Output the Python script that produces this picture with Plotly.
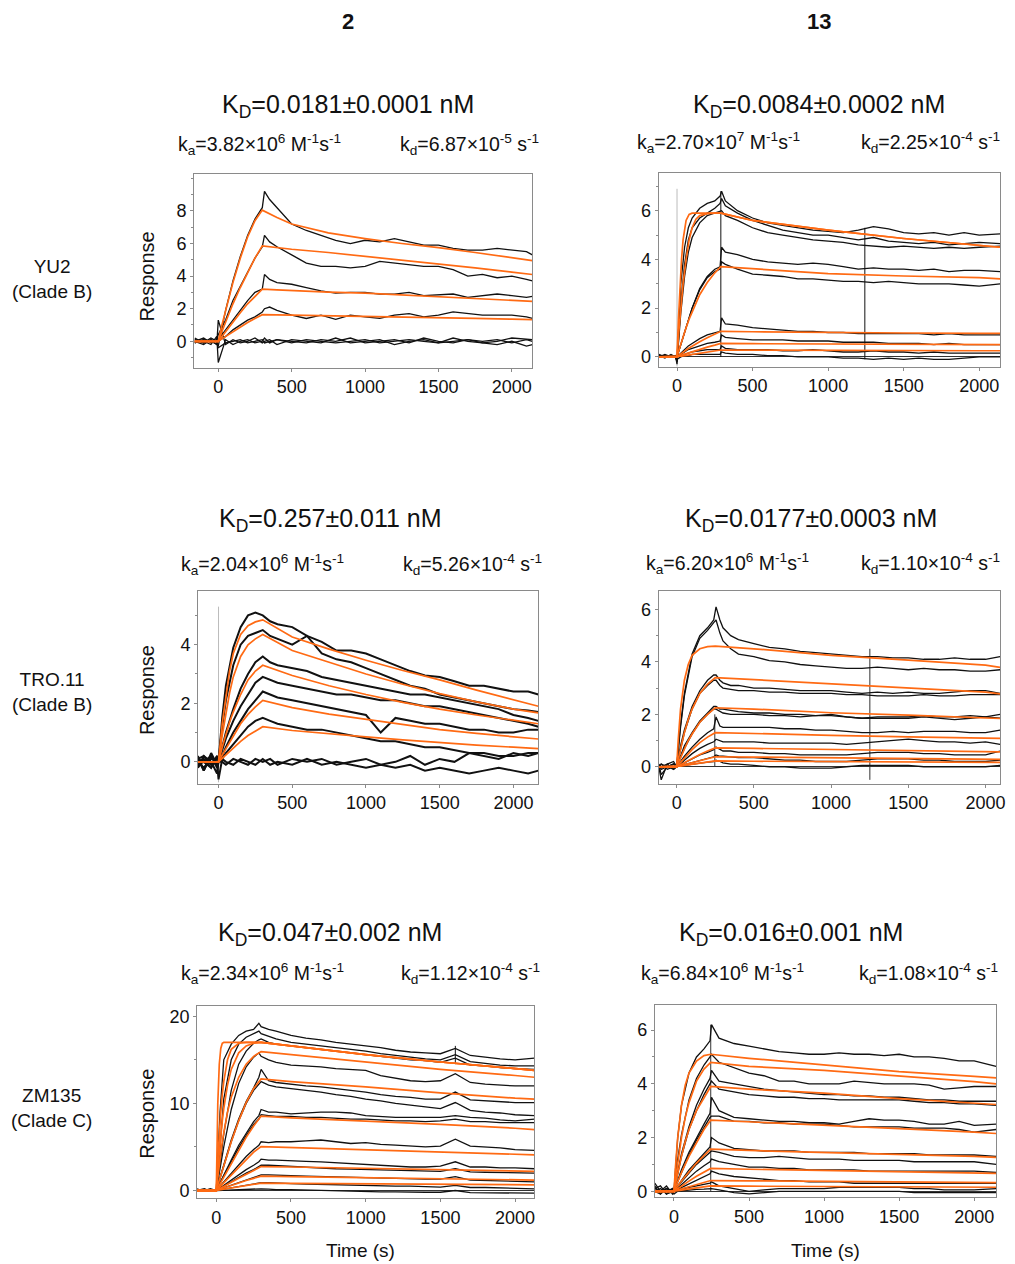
import plotly.graph_objects as go

W, H = 1015, 1264
BLACK = "#111111"
ORANGE = "#FF6A13"
FONT = "Liberation Sans, Arial, sans-serif"

# ---------------- Panel 1 : antibody 2 vs YU2 ----------------
p1_t = [-160, -100, -50, -10, 0, 50, 100, 150, 200, 250, 300, 315, 350, 400, 500, 600, 700, 800, 900, 1000,
        1100, 1200, 1300, 1400, 1500, 1600, 1700, 1800, 1900, 2000, 2100, 2140]
p1_black = [
    [0.1, -0.1, 0.2, 0.0, -0.3, 1.9, 3.7, 5.2, 6.5, 7.5, 8.2, 9.2, 8.7, 8.2, 7.2, 6.8, 6.5, 6.2, 6.0, 6.2, 6.1, 6.3, 6.1, 5.9, 5.9, 5.7, 5.6, 5.6, 5.7, 5.6, 5.5, 5.3],
    [-0.1, 0.1, 0.0, 0.1, 0.4, 1.3, 2.5, 3.4, 4.3, 5.1, 5.8, 6.5, 6.1, 5.8, 5.3, 4.8, 4.6, 4.6, 4.5, 4.6, 4.9, 4.8, 4.7, 4.6, 4.6, 4.4, 4.0, 4.1, 3.9, 4.0, 3.8, 3.7],
    [0.0, 0.2, -0.1, 0.0, 0.1, 0.7, 1.3, 1.9, 2.5, 3.0, 3.2, 4.1, 3.8, 3.6, 3.5, 3.3, 3.1, 2.95, 3.0, 3.0, 2.9, 2.9, 3.0, 2.8, 2.85, 2.9, 2.7, 2.8, 2.9, 2.8, 2.7, 2.75],
    [0.2, -0.1, 0.1, -0.2, 0.0, 0.3, 0.7, 1.0, 1.3, 1.5, 1.8, 2.0, 2.1, 1.9, 1.6, 1.4, 1.6, 1.35, 1.6, 1.5, 1.4, 1.6, 1.7, 1.5, 1.6, 1.8, 1.7, 1.6, 1.6, 1.6, 1.5, 1.4],
    [0.1, 0.0, -0.2, 0.3, -1.3, 0.1, -0.2, 0.0, 0.1, -0.1, 0.0, 0.2, -0.1, 0.1, 0.0, -0.1, 0.1, 0.0, 0.2, -0.1, 0.0, 0.1, -0.1, 0.2, 0.0, -0.1, 0.1, 0.0, 0.1, -0.1, 0.1, 0.0],
    [-0.1, 0.1, 0.0, -0.2, 1.3, -0.2, 0.1, -0.1, 0.0, 0.2, -0.1, 0.0, 0.1, -0.2, 0.1, 0.0, -0.1, 0.2, -0.1, 0.0, 0.1, -0.2, 0.0, 0.1, -0.1, 0.2, 0.0, -0.1, -0.2, 0.0, -0.3, -0.2],
    [0.0, -0.2, 0.1, 0.0, -0.4, -0.1, 0.0, 0.1, -0.1, 0.0, 0.1, -0.1, 0.0, 0.1, -0.1, 0.1, 0.0, -0.1, 0.0, 0.1, -0.1, 0.0, 0.1, 0.0, -0.1, 0.0, 0.1, -0.1, 0.0, 0.2, 0.1, 0.1],
]
p1_ft = [-160, 0, 25, 50, 75, 100, 150, 200, 250, 300, 400, 500, 750, 1000, 1250, 1500, 1750, 2000, 2140]
p1_fit = [
    [0, 0, 1.0, 1.9, 2.8, 3.6, 5.1, 6.4, 7.4, 8.05, 7.6, 7.2, 6.65, 6.3, 6.0, 5.75, 5.45, 5.15, 4.95],
    [0, 0, 0.6, 1.2, 1.75, 2.3, 3.3, 4.25, 5.1, 5.86, 5.75, 5.65, 5.45, 5.22, 5.0, 4.75, 4.5, 4.25, 4.1],
    [0, 0, 0.3, 0.6, 0.9, 1.2, 1.75, 2.3, 2.75, 3.2, 3.15, 3.1, 3.02, 2.95, 2.85, 2.75, 2.65, 2.52, 2.45],
    [0, 0, 0.15, 0.3, 0.45, 0.6, 0.9, 1.15, 1.4, 1.63, 1.62, 1.6, 1.56, 1.52, 1.48, 1.44, 1.4, 1.36, 1.33],
]

# ---------------- Panel 2 : antibody 13 vs YU2 ----------------
p2_t = [-120, -80, -40, -10, 0, 25, 50, 75, 100, 150, 200, 250, 285, 295, 320, 400, 500, 600, 700, 800, 900,
        1000, 1100, 1200, 1300, 1400, 1500, 1600, 1700, 1800, 1900, 2000, 2138]
p2_black = [
    [0.1, 0.0, 0.05, 0.0, -0.2, 3.0, 4.5, 5.3, 5.7, 6.1, 6.3, 6.4, 6.6, 6.8, 6.4, 6.0, 5.7, 5.5, 5.4, 5.3, 5.2, 5.15, 5.1, 5.2, 5.35, 5.25, 5.1, 5.05, 5.1, 5.0, 5.1, 5.0, 5.05],
    [0.0, 0.1, 0.0, 0.05, -0.3, 2.2, 3.8, 4.8, 5.3, 5.7, 5.9, 6.1, 6.3, 6.5, 6.2, 5.9, 5.6, 5.4, 5.2, 5.1, 5.0, 5.0, 4.9, 4.8, 4.9, 4.75, 4.7, 4.65, 4.7, 4.6, 4.65, 4.7, 4.65],
    [0.05, -0.05, 0.1, 0.0, -0.2, 1.8, 3.3, 4.3, 4.9, 5.5, 5.8, 5.9, 5.95, 6.0, 5.8, 5.6, 5.3, 5.1, 5.0, 4.9, 4.8, 4.75, 4.7, 4.6, 4.55, 4.5, 4.55, 4.5, 4.45, 4.5, 4.45, 4.5, 4.55],
    [0.0, 0.05, 0.0, 0.0, 0.0, 0.5, 1.0, 1.5, 2.0, 2.8, 3.3, 3.6, 3.7, 4.5, 4.3, 4.2, 4.0, 3.9, 3.85, 3.8, 3.85, 3.8, 3.7, 3.6, 3.65, 3.6, 3.6, 3.55, 3.6, 3.5, 3.55, 3.55, 3.5],
    [0.0, 0.0, 0.05, 0.0, 0.0, 0.5, 1.0, 1.5, 2.0, 2.75, 3.25, 3.5, 3.6, 3.9, 3.8, 3.6, 3.4, 3.35, 3.3, 3.2, 3.2, 3.15, 3.1, 3.1, 3.05, 3.1, 3.05, 3.0, 3.0, 3.0, 2.95, 2.9, 3.0],
    [0.0, 0.05, 0.0, 0.0, 0.0, 0.15, 0.3, 0.45, 0.55, 0.75, 0.9, 1.0, 1.05, 1.6, 1.35, 1.3, 1.2, 1.15, 1.1, 1.05, 1.05, 1.0, 1.0, 0.95, 0.95, 0.95, 0.95, 0.95, 0.9, 0.95, 0.9, 0.9, 0.9],
    [0.0, 0.0, 0.0, 0.05, 0.0, 0.1, 0.2, 0.3, 0.35, 0.45, 0.55, 0.6, 0.65, 0.9, 0.8, 0.75, 0.7, 0.7, 0.7, 0.65, 0.65, 0.65, 0.6, 0.6, 0.6, 0.55, 0.55, 0.55, 0.5, 0.55, 0.5, 0.5, 0.5],
    [0.05, 0.0, 0.0, 0.0, 0.0, 0.05, 0.1, 0.15, 0.2, 0.25, 0.3, 0.3, 0.3, 0.45, 0.35, 0.3, 0.3, 0.3, 0.25, 0.25, 0.3, 0.25, 0.2, 0.2, 0.25, 0.2, 0.2, 0.15, 0.2, 0.15, 0.15, 0.15, 0.15],
    [0.0, 0.05, 0.0, 0.0, -0.1, 0.0, 0.05, 0.05, 0.1, 0.1, 0.1, 0.1, 0.1, 0.2, 0.15, 0.1, 0.1, 0.05, 0.05, 0.0, 0.0, 0.0, -0.05, -0.05, -0.1, -0.05, -0.1, -0.05, -0.1, -0.1, -0.05, 0.0, 0.0],
]
p2_ft = [-120, 0, 10, 20, 30, 40, 60, 80, 100, 125, 150, 200, 250, 290, 500, 750, 1000, 1500, 2000, 2138]
p2_fit = [
    [0, 0, 1.6, 2.9, 4.0, 4.8, 5.6, 5.85, 5.9, 5.9, 5.9, 5.9, 5.9, 5.9, 5.6, 5.4, 5.2, 4.86, 4.6, 4.5],
    [0, 0, 0.9, 1.7, 2.4, 3.0, 4.0, 4.8, 5.3, 5.65, 5.8, 5.88, 5.9, 5.9, 5.6, 5.4, 5.2, 4.86, 4.6, 4.5],
    [0, 0, 0.22, 0.43, 0.63, 0.83, 1.2, 1.55, 1.85, 2.2, 2.55, 3.05, 3.45, 3.7, 3.62, 3.52, 3.42, 3.32, 3.25, 3.2],
    [0, 0, 0.05, 0.1, 0.15, 0.2, 0.28, 0.36, 0.44, 0.53, 0.62, 0.78, 0.93, 1.05, 1.03, 1.01, 1.0, 0.98, 0.96, 0.96],
    [0, 0, 0.02, 0.05, 0.07, 0.09, 0.14, 0.18, 0.22, 0.27, 0.31, 0.4, 0.48, 0.55, 0.54, 0.53, 0.52, 0.51, 0.5, 0.5],
    [0, 0, 0.01, 0.02, 0.03, 0.04, 0.06, 0.09, 0.11, 0.14, 0.16, 0.21, 0.25, 0.28, 0.28, 0.27, 0.27, 0.26, 0.25, 0.25],
]

# ---------------- Panel 3 : antibody 2 vs TRO.11 ----------------
p3_t = [-140, -100, -50, -10, 0, 25, 50, 100, 150, 200, 250, 300, 350, 400, 500, 600, 700, 800, 900, 1000,
        1100, 1200, 1300, 1400, 1500, 1600, 1700, 1800, 1900, 2000, 2100, 2169]
p3_black = [
    [0.2, -0.3, 0.3, -0.1, 0.0, 1.5, 2.6, 3.9, 4.6, 5.0, 5.1, 5.0, 4.8, 4.7, 4.6, 4.3, 4.1, 3.8, 3.8, 3.7, 3.5, 3.3, 3.1, 2.95, 2.9, 2.75, 2.6, 2.6, 2.5, 2.4, 2.4, 2.3],
    [-0.2, 0.1, -0.2, 0.2, 0.0, 1.2, 2.1, 3.3, 4.0, 4.3, 4.4, 4.5, 4.3, 4.2, 4.0, 4.3, 3.7, 3.5, 3.4, 3.2, 3.0, 2.8, 2.6, 2.5, 2.3, 2.2, 2.1, 2.0, 1.9, 1.8, 1.75, 1.7],
    [0.1, 0.2, -0.1, 0.0, 0.0, 0.5, 1.0, 1.8, 2.5, 3.0, 3.4, 3.6, 3.4, 3.3, 3.2, 3.1, 2.9, 2.8, 2.7, 2.6, 2.5, 2.4, 2.3, 2.3, 2.2, 2.1, 2.0, 1.9, 1.8, 1.6, 1.5, 1.4],
    [-0.1, 0.0, 0.2, -0.2, 0.0, 0.4, 0.8, 1.4, 1.9, 2.3, 2.7, 2.9, 2.8, 2.7, 2.6, 2.5, 2.4, 2.3, 2.3, 2.2, 2.1, 2.1, 2.0, 1.9, 1.9, 1.8, 1.7, 1.6, 1.5, 1.4, 1.3, 1.2],
    [0.0, -0.2, 0.1, 0.1, 0.0, 0.2, 0.5, 1.0, 1.4, 1.8, 2.1, 2.4, 2.3, 2.2, 2.1, 2.0, 1.9, 1.8, 1.7, 1.6, 1.0, 1.5, 1.4, 1.3, 1.3, 1.2, 1.1, 1.1, 1.0, 1.0, 1.1, 1.1],
    [0.1, 0.0, -0.2, 0.2, 0.0, 0.1, 0.3, 0.6, 0.9, 1.2, 1.4, 1.5, 1.4, 1.3, 1.2, 1.1, 1.1, 1.0, 0.9, 0.8, 0.7, 0.7, 0.6, 0.5, 0.5, 0.4, 0.3, 0.3, 0.2, 0.2, 0.3, 0.3],
    [-0.2, 0.2, 0.0, -0.4, 0.0, 0.0, -0.1, 0.1, 0.0, -0.1, 0.1, 0.0, 0.1, -0.1, 0.1, 0.0, 0.1, -0.1, 0.0, 0.1, -0.1, 0.0, 0.2, -0.1, 0.1, 0.0, 0.3, 0.2, 0.1, 0.3, 0.2, 0.3],
    [0.1, -0.3, 0.2, 0.0, -0.6, 0.1, 0.0, -0.1, 0.1, 0.0, -0.1, 0.1, -0.1, 0.0, -0.1, 0.1, -0.1, 0.0, -0.1, -0.2, -0.1, -0.2, -0.1, -0.3, -0.2, -0.3, -0.4, -0.3, -0.2, -0.3, -0.4, -0.3],
]
p3_ft = [-140, 0, 25, 50, 75, 100, 150, 200, 250, 300, 500, 750, 1000, 1250, 1500, 1750, 2000, 2169]
p3_fit = [
    [0, 0, 1.3, 2.3, 3.1, 3.7, 4.35, 4.65, 4.78, 4.85, 4.26, 3.85, 3.47, 3.12, 2.8, 2.45, 2.12, 1.9],
    [0, 0, 0.9, 1.7, 2.35, 2.9, 3.6, 4.0, 4.2, 4.35, 3.8, 3.4, 3.0, 2.65, 2.33, 2.05, 1.8, 1.67],
    [0, 0, 0.5, 0.95, 1.35, 1.7, 2.3, 2.8, 3.1, 3.3, 2.95, 2.6, 2.3, 2.03, 1.8, 1.6, 1.42, 1.3],
    [0, 0, 0.23, 0.45, 0.68, 0.9, 1.3, 1.62, 1.88, 2.1, 1.85, 1.63, 1.45, 1.27, 1.1, 0.97, 0.85, 0.78],
    [0, 0, 0.12, 0.24, 0.36, 0.48, 0.7, 0.9, 1.06, 1.2, 1.07, 0.95, 0.85, 0.75, 0.65, 0.57, 0.5, 0.45],
]

# ---------------- Panel 4 : antibody 13 vs TRO.11 ----------------
p4_t = [-116, -100, -60, -20, 0, 25, 50, 100, 150, 200, 240, 255, 280, 300, 350, 400, 500, 600, 700, 800, 900,
        1000, 1100, 1200, 1300, 1400, 1500, 1600, 1700, 1800, 1900, 2000, 2094]
p4_black = [
    [0.0, -0.5, 0.1, 0.2, 0.0, 1.6, 2.8, 4.3, 5.0, 5.3, 5.6, 6.1, 5.6, 5.3, 5.0, 4.85, 4.7, 4.55, 4.5, 4.4, 4.35, 4.3, 4.25, 4.2, 4.2, 4.15, 4.15, 4.1, 4.1, 4.15, 4.1, 4.1, 4.2],
    [0.1, -0.3, 0.0, 0.1, 0.0, 1.5, 2.7, 4.2, 4.9, 5.2, 5.5, 5.6, 5.1, 4.8, 4.5, 4.3, 4.2, 4.05, 4.0, 3.9, 3.85, 3.8, 3.75, 3.75, 3.8, 3.75, 3.7, 3.75, 3.7, 3.7, 3.65, 3.65, 3.7],
    [0.0, 0.1, -0.1, 0.0, 0.0, 0.8, 1.4, 2.3, 2.9, 3.3, 3.5, 3.5, 3.3, 3.2, 3.1, 3.1, 3.0, 3.0, 2.95, 2.9, 2.9, 2.9, 2.85, 2.8, 2.85, 2.8, 2.85, 2.8, 2.8, 2.85, 2.9, 2.9, 2.8],
    [0.0, 0.0, 0.1, -0.1, 0.0, 0.7, 1.3, 2.2, 2.8, 3.1, 3.3, 3.3, 3.1, 3.0, 2.95, 2.9, 2.9, 2.85, 2.85, 2.8, 2.8, 2.8, 2.75, 2.75, 2.7, 2.7, 2.7, 2.75, 2.7, 2.7, 2.75, 2.75, 2.75],
    [0.1, -0.1, 0.0, 0.1, 0.0, 0.4, 0.8, 1.3, 1.75, 2.05, 2.3, 2.3, 2.2, 2.2, 2.15, 2.1, 2.05, 2.05, 2.0, 2.0, 1.95, 2.0, 1.9, 1.85, 1.9, 1.9, 1.9, 1.95, 1.9, 1.9, 1.95, 1.9, 2.0],
    [0.0, 0.0, 0.0, 0.1, 0.0, 0.35, 0.7, 1.25, 1.7, 2.0, 2.2, 2.2, 2.1, 2.05, 2.0, 2.0, 2.0, 1.95, 1.95, 1.9, 1.95, 1.95, 1.9, 1.85, 1.85, 1.85, 1.85, 1.9, 1.85, 1.8, 1.85, 1.9, 1.85],
    [0.0, 0.1, 0.0, -0.1, 0.0, 0.2, 0.4, 0.75, 1.05, 1.3, 1.45, 1.9, 1.55, 1.5, 1.5, 1.5, 1.5, 1.5, 1.45, 1.45, 1.4, 1.4, 1.35, 1.3, 1.3, 1.35, 1.3, 1.35, 1.35, 1.35, 1.3, 1.3, 1.4],
    [0.0, 0.0, 0.0, 0.0, 0.0, 0.1, 0.25, 0.5, 0.7, 0.85, 0.95, 1.05, 1.0, 0.95, 0.95, 0.95, 0.95, 0.9, 0.9, 0.9, 0.9, 0.9, 0.85, 0.9, 0.95, 1.0, 1.05, 1.0, 0.95, 0.95, 0.9, 0.95, 0.85],
    [0.0, 0.0, 0.0, 0.0, 0.0, 0.07, 0.15, 0.3, 0.45, 0.55, 0.65, 0.75, 0.65, 0.6, 0.6, 0.55, 0.55, 0.5, 0.5, 0.45, 0.45, 0.45, 0.45, 0.5, 0.55, 0.55, 0.55, 0.5, 0.5, 0.45, 0.45, 0.45, 0.6],
    [0.0, 0.0, 0.0, 0.0, 0.0, 0.04, 0.08, 0.15, 0.25, 0.32, 0.38, 0.45, 0.4, 0.4, 0.38, 0.35, 0.35, 0.3, 0.25, 0.25, 0.2, 0.2, 0.2, 0.25, 0.3, 0.3, 0.3, 0.25, 0.25, 0.2, 0.2, 0.2, 0.25],
    [0.0, 0.0, 0.0, 0.0, 0.0, 0.02, 0.05, 0.1, 0.15, 0.18, 0.2, 0.25, 0.2, 0.15, 0.1, 0.1, 0.05, 0.0, 0.0, -0.05, -0.05, -0.05, 0.0, 0.05, 0.05, 0.05, 0.05, 0.0, 0.0, 0.0, 0.0, 0.0, 0.05],
]
p4_ft = [-116, 0, 10, 25, 50, 75, 100, 150, 200, 250, 500, 1000, 1500, 2000, 2094]
p4_fit = [
    [0, 0, 1.0, 2.2, 3.3, 3.9, 4.25, 4.5, 4.58, 4.6, 4.5, 4.25, 4.07, 3.88, 3.79],
    [0, 0, 0.28, 0.7, 1.3, 1.8, 2.2, 2.8, 3.15, 3.4, 3.32, 3.15, 3.0, 2.85, 2.78],
    [0, 0, 0.14, 0.35, 0.7, 1.0, 1.25, 1.7, 2.0, 2.25, 2.2, 2.06, 1.97, 1.87, 1.84],
    [0, 0, 0.07, 0.17, 0.35, 0.5, 0.65, 0.92, 1.13, 1.3, 1.26, 1.2, 1.14, 1.09, 1.08],
    [0, 0, 0.03, 0.08, 0.17, 0.25, 0.33, 0.47, 0.6, 0.72, 0.7, 0.66, 0.62, 0.58, 0.57],
    [0, 0, 0.02, 0.04, 0.08, 0.12, 0.16, 0.24, 0.31, 0.38, 0.37, 0.34, 0.31, 0.29, 0.28],
    [0, 0, 0.01, 0.02, 0.05, 0.07, 0.09, 0.14, 0.18, 0.22, 0.21, 0.2, 0.19, 0.17, 0.17],
]

# ---------------- Panel 5 : antibody 2 vs ZM135 ----------------
p5_t = [-129, -80, -40, 0, 25, 50, 100, 150, 200, 250, 285, 300, 350, 400, 500, 600, 700, 800, 900, 1000,
        1100, 1200, 1300, 1400, 1500, 1600, 1700, 1800, 1900, 2000, 2129]
p5_black = [
    [0.2, -0.1, 0.1, 0.0, 9.0, 15.0, 16.8, 17.8, 18.3, 18.5, 19.2, 18.8, 18.5, 18.3, 17.8, 17.5, 17.3, 17.0, 16.8, 16.6, 16.4, 16.1, 15.9, 15.8, 15.7, 16.3, 15.5, 15.3, 15.1, 15.0, 15.2],
    [0.0, 0.2, -0.1, 0.0, 5.0, 10.5, 15.0, 16.8, 17.6, 18.0, 18.3, 18.0, 17.7, 17.4, 17.0, 16.8, 16.6, 16.4, 16.2, 16.0, 15.7, 15.5, 15.3, 15.1, 15.0, 15.6, 14.8, 14.6, 14.4, 14.3, 14.3],
    [-0.1, 0.0, 0.2, 0.0, 3.0, 6.5, 11.5, 14.5, 16.0, 16.9, 17.3, 17.4, 17.0, 16.8, 16.6, 16.4, 16.2, 16.0, 15.8, 15.6, 15.4, 15.2, 15.0, 14.9, 14.7, 15.2, 14.4, 14.3, 14.1, 14.0, 13.9],
    [0.1, 0.0, -0.1, 0.0, 2.5, 5.0, 9.3, 12.3, 14.2, 15.3, 15.8, 15.4, 15.0, 14.7, 14.4, 14.3, 14.2, 14.0, 13.9, 13.8, 13.2, 12.9, 12.6, 12.5, 12.6, 13.4, 12.4, 12.2, 12.1, 12.0, 12.0],
    [0.0, -0.1, 0.1, 0.0, 1.5, 3.0, 5.8, 8.2, 10.2, 11.8, 13.0, 13.9, 12.6, 12.4, 12.2, 12.0, 11.9, 11.7, 11.5, 11.3, 11.0, 10.8, 10.7, 10.5, 10.5, 11.3, 10.4, 10.3, 10.2, 10.1, 10.1],
    [0.1, 0.0, 0.0, 0.0, 1.4, 2.8, 5.6, 8.0, 10.0, 11.5, 12.3, 12.5, 12.1, 11.9, 11.7, 11.5, 11.3, 11.0, 10.8, 10.5, 10.3, 10.0, 9.8, 9.6, 9.4, 10.1, 9.2, 9.0, 8.9, 8.7, 8.6],
    [0.0, 0.1, -0.1, 0.0, 0.9, 1.8, 3.5, 5.2, 6.6, 7.9, 8.6, 9.3, 9.0, 9.0, 8.8, 8.9, 9.0, 9.0, 8.9, 8.6, 8.5, 8.4, 8.4, 8.4, 8.4, 8.6, 8.4, 8.3, 8.1, 8.0, 8.2],
    [0.0, 0.0, 0.1, 0.0, 0.8, 1.7, 3.3, 4.9, 6.3, 7.6, 8.2, 8.7, 8.6, 8.5, 8.5, 8.4, 8.4, 8.3, 8.2, 8.2, 8.1, 8.0, 8.0, 7.9, 8.0, 8.2, 7.9, 7.9, 7.8, 7.8, 7.8],
    [0.1, -0.1, 0.0, 0.0, 0.5, 1.0, 2.0, 3.0, 3.9, 4.7, 5.2, 5.6, 5.5, 5.6, 5.6, 5.7, 5.8, 5.6, 5.4, 5.5, 5.3, 5.2, 5.1, 5.0, 5.1, 5.9, 5.1, 5.0, 4.9, 4.7, 4.6],
    [0.0, 0.0, 0.1, 0.0, 0.3, 0.6, 1.2, 1.8, 2.4, 2.9, 3.3, 3.6, 3.5, 3.5, 3.4, 3.35, 3.3, 3.2, 3.1, 3.0, 2.9, 2.8, 2.7, 2.7, 2.8, 3.3, 2.7, 2.7, 2.6, 2.6, 2.5],
    [0.0, 0.1, 0.0, 0.0, 0.25, 0.5, 1.0, 1.5, 2.0, 2.4, 2.7, 2.9, 2.9, 2.85, 2.8, 2.7, 2.6, 2.5, 2.45, 2.4, 2.35, 2.3, 2.3, 2.25, 2.2, 2.5, 2.15, 2.1, 2.05, 2.0, 2.0],
    [0.0, 0.0, 0.0, 0.0, 0.15, 0.3, 0.6, 0.9, 1.2, 1.45, 1.65, 1.8, 1.8, 1.75, 1.7, 1.65, 1.6, 1.55, 1.5, 1.5, 1.45, 1.4, 1.35, 1.3, 1.3, 1.6, 1.2, 1.15, 1.1, 1.1, 1.0],
    [0.0, 0.0, 0.0, 0.0, 0.08, 0.15, 0.3, 0.45, 0.6, 0.72, 0.82, 0.9, 0.9, 0.85, 0.8, 0.75, 0.7, 0.65, 0.65, 0.6, 0.55, 0.5, 0.5, 0.45, 0.4, 0.6, 0.35, 0.35, 0.3, 0.3, 0.2],
    [0.1, 0.0, -0.1, 0.0, 0.02, 0.05, 0.1, 0.15, 0.15, 0.2, 0.2, 0.2, 0.15, 0.1, 0.1, 0.05, 0.0, -0.05, -0.1, -0.1, -0.15, -0.15, -0.2, -0.2, -0.2, 0.0, -0.25, -0.25, -0.3, -0.3, -0.3],
]
p5_ft = [-129, 0, 10, 20, 30, 40, 50, 75, 100, 150, 200, 250, 300, 500, 1000, 1500, 2000, 2129]
p5_fit = [
    [0, 0, 10.0, 14.5, 16.3, 16.9, 17.0, 17.0, 17.0, 17.0, 17.0, 17.0, 17.0, 16.6, 15.6, 14.75, 13.95, 13.8],
    [0, 0, 3.6, 6.6, 9.0, 11.0, 12.5, 15.0, 16.2, 16.9, 17.0, 17.0, 17.0, 16.6, 15.6, 14.75, 13.95, 13.8],
    [0, 0, 2.4, 4.5, 6.4, 8.0, 9.4, 12.1, 13.9, 15.8, 16.6, 16.9, 17.0, 16.6, 15.6, 14.75, 13.95, 13.8],
    [0, 0, 1.5, 3.0, 4.4, 5.6, 6.6, 9.0, 10.7, 13.0, 14.5, 15.4, 15.95, 15.6, 14.8, 13.9, 13.2, 13.0],
    [0, 0, 0.6, 1.2, 1.8, 2.3, 2.9, 4.2, 5.6, 8.0, 10.1, 11.7, 12.8, 12.5, 11.9, 11.2, 10.6, 10.5],
    [0, 0, 0.3, 0.6, 0.9, 1.2, 1.5, 2.3, 3.1, 4.6, 6.1, 7.4, 8.55, 8.35, 8.0, 7.6, 7.15, 7.0],
    [0, 0, 0.18, 0.36, 0.54, 0.72, 0.9, 1.35, 1.8, 2.7, 3.6, 4.4, 5.05, 4.95, 4.7, 4.45, 4.2, 4.1],
    [0, 0, 0.1, 0.2, 0.3, 0.4, 0.5, 0.72, 0.95, 1.4, 1.85, 2.3, 2.75, 2.7, 2.55, 2.4, 2.25, 2.2],
    [0, 0, 0.06, 0.12, 0.18, 0.24, 0.3, 0.45, 0.6, 0.88, 1.15, 1.4, 1.65, 1.6, 1.5, 1.4, 1.25, 1.2],
    [0, 0, 0.03, 0.06, 0.09, 0.12, 0.15, 0.22, 0.3, 0.44, 0.58, 0.72, 0.85, 0.83, 0.78, 0.72, 0.67, 0.65],
]

# ---------------- Panel 6 : antibody 13 vs ZM135 ----------------
p6_t = [-128, -90, -50, -10, 0, 25, 50, 100, 150, 200, 240, 250, 300, 400, 500, 600, 700, 800, 900, 1000,
        1100, 1200, 1300, 1400, 1500, 1600, 1700, 1800, 1900, 2000, 2146]
p6_black = [
    [0.3, 0.0, 0.2, -0.1, 0.0, 2.0, 3.2, 4.4, 5.0, 5.3, 5.6, 6.2, 5.7, 5.5, 5.4, 5.3, 5.2, 5.15, 5.1, 5.1, 5.15, 5.1, 5.1, 5.05, 5.1, 5.0, 5.0, 4.95, 4.85, 4.85, 4.65],
    [0.1, 0.2, -0.1, 0.1, 0.0, 1.2, 2.1, 3.4, 4.2, 4.7, 5.0, 5.1, 4.8, 4.6, 4.4, 4.3, 4.1, 4.1, 4.0, 4.0, 4.0, 4.1, 4.05, 4.0, 4.0, 4.0, 3.95, 3.8, 3.85, 3.9, 3.9],
    [0.0, -0.1, 0.1, 0.0, 0.0, 0.7, 1.4, 2.4, 3.2, 3.8, 4.2, 4.5, 4.1, 4.0, 3.9, 3.8, 3.75, 3.7, 3.65, 3.6, 3.6, 3.55, 3.55, 3.5, 3.5, 3.45, 3.4, 3.4, 3.35, 3.35, 3.35],
    [0.1, 0.0, 0.0, 0.1, 0.0, 0.65, 1.3, 2.3, 3.0, 3.6, 4.0, 4.1, 3.8, 3.7, 3.6, 3.55, 3.5, 3.5, 3.45, 3.45, 3.4, 3.4, 3.4, 3.4, 3.4, 3.35, 3.3, 3.3, 3.25, 3.25, 3.2],
    [0.0, 0.1, -0.1, 0.0, 0.0, 0.4, 0.8, 1.45, 2.0, 2.5, 2.9, 3.5, 3.0, 2.75, 2.7, 2.65, 2.6, 2.6, 2.55, 2.55, 2.5, 2.6, 2.7, 2.65, 2.65, 2.6, 2.5, 2.5, 2.6, 2.45, 2.5],
    [0.0, 0.0, 0.1, 0.0, 0.0, 0.35, 0.7, 1.35, 1.9, 2.4, 2.75, 2.8, 2.8, 2.6, 2.6, 2.55, 2.55, 2.5, 2.5, 2.5, 2.45, 2.4, 2.4, 2.4, 2.4, 2.35, 2.35, 2.35, 2.3, 2.2, 2.3],
    [0.0, 0.0, 0.0, 0.0, 0.0, 0.2, 0.4, 0.8, 1.1, 1.4, 1.65, 2.0, 1.8, 1.6, 1.55, 1.5, 1.5, 1.5, 1.45, 1.45, 1.45, 1.45, 1.4, 1.4, 1.4, 1.4, 1.35, 1.35, 1.35, 1.35, 1.3],
    [0.0, 0.0, 0.0, 0.0, 0.0, 0.18, 0.35, 0.7, 1.0, 1.25, 1.45, 1.5, 1.45, 1.3, 1.25, 1.25, 1.3, 1.25, 1.2, 1.2, 1.2, 1.15, 1.15, 1.15, 1.15, 1.1, 1.1, 1.1, 1.1, 1.1, 1.0],
    [0.0, 0.0, 0.0, 0.0, 0.0, 0.12, 0.25, 0.5, 0.75, 0.95, 1.1, 1.2, 1.1, 1.0, 0.9, 0.9, 0.85, 0.85, 0.8, 0.8, 0.8, 0.8, 0.75, 0.75, 0.75, 0.75, 0.75, 0.75, 0.75, 0.75, 0.7],
    [0.0, 0.0, 0.0, 0.0, 0.0, 0.07, 0.14, 0.28, 0.42, 0.55, 0.65, 0.75, 0.65, 0.55, 0.5, 0.45, 0.4, 0.4, 0.35, 0.35, 0.35, 0.3, 0.3, 0.3, 0.3, 0.3, 0.3, 0.3, 0.3, 0.3, 0.3],
    [0.0, 0.0, 0.0, 0.0, 0.0, 0.04, 0.08, 0.15, 0.2, 0.25, 0.3, 0.35, 0.2, 0.1, 0.0, 0.05, 0.1, 0.1, 0.1, 0.1, 0.15, 0.15, 0.15, 0.15, 0.15, 0.1, 0.1, 0.05, 0.05, 0.05, 0.1],
    [0.2, -0.1, 0.1, 0.0, -0.1, 0.0, 0.02, 0.05, 0.07, 0.08, 0.1, 0.1, 0.05, -0.05, -0.1, -0.05, 0.0, 0.0, 0.0, 0.0, 0.0, 0.0, 0.0, 0.0, 0.0, -0.05, -0.05, -0.05, -0.05, -0.05, -0.05],
]
p6_ft = [-128, 0, 10, 25, 50, 75, 100, 150, 200, 245, 500, 1000, 1500, 2000, 2146]
p6_fit = [
    [0, 0, 0.9, 2.0, 3.2, 3.95, 4.4, 4.85, 5.05, 5.1, 4.95, 4.7, 4.45, 4.28, 4.22],
    [0, 0, 0.45, 1.1, 2.0, 2.75, 3.3, 4.1, 4.55, 4.8, 4.65, 4.5, 4.3, 4.08, 4.0],
    [0, 0, 0.28, 0.7, 1.3, 1.85, 2.3, 3.0, 3.5, 3.9, 3.8, 3.65, 3.45, 3.3, 3.23],
    [0, 0, 0.15, 0.37, 0.7, 1.0, 1.3, 1.8, 2.3, 2.65, 2.58, 2.45, 2.33, 2.2, 2.15],
    [0, 0, 0.08, 0.2, 0.38, 0.55, 0.72, 1.05, 1.33, 1.57, 1.52, 1.45, 1.37, 1.3, 1.26],
    [0, 0, 0.04, 0.1, 0.2, 0.3, 0.38, 0.56, 0.72, 0.85, 0.82, 0.78, 0.74, 0.69, 0.67],
    [0, 0, 0.02, 0.05, 0.09, 0.14, 0.18, 0.26, 0.34, 0.4, 0.39, 0.37, 0.35, 0.33, 0.32],
    [0, 0, 0.01, 0.02, 0.04, 0.07, 0.09, 0.13, 0.17, 0.2, 0.19, 0.18, 0.17, 0.16, 0.15],
]

# injection / artefact lines: (time, y_low, y_high, color)
p2_events = [(0, -0.4, 6.9, "#bbbbbb"), (290, 0.0, 6.8, BLACK), (1243, -0.1, 5.3, BLACK)]
p3_events = [(0, -0.7, 5.3, "#bbbbbb")]
p4_events = [(247, 0.0, 2.0, "#333333"), (1251, -0.5, 4.5, "#333333")]
p5_events = [(1600, 14.5, 16.6, BLACK)]
p6_events = [(245, 0.0, 6.2, "#333333")]

# axis ranges and ticks
x_ranges = [[-165, 2140], [-121, 2138], [-139, 2169], [-116, 2094], [-129, 2129], [-128, 2146]]
y_ranges = [[-1.63, 10.24], [-0.41, 7.53], [-0.74, 5.83], [-0.64, 6.7], [-0.88, 21.2], [-0.22, 6.94]]
y_ticks = [[0, 2, 4, 6, 8], [0, 2, 4, 6], [0, 2, 4], [0, 2, 4, 6], [0, 10, 20], [0, 2, 4, 6]]
y_minor = [1, 1, 1, 1, 5, 1]
x_ticks = [0, 500, 1000, 1500, 2000]

# panel boxes in pixels (left, right, top, bottom)
boxes = [(195, 535, 175, 369), (662, 1005, 174, 368), (199, 541, 593, 786),
         (662, 1005, 593, 786), (198, 537, 1009, 1202), (658, 1001, 1008, 1201)]

kd_text = ["0.0181±0.0001", "0.0084±0.0002", "0.257±0.011", "0.0177±0.0003", "0.047±0.002", "0.016±0.001"]
ka_text = [("3.82", "6"), ("2.70", "7"), ("2.04", "6"), ("6.20", "6"), ("2.34", "6"), ("6.84", "6")]
kd_rate = [("6.87", "-5"), ("2.25", "-4"), ("5.26", "-4"), ("1.10", "-4"), ("1.12", "-4"), ("1.08", "-4")]
col_titles = ["2", "13"]
row_titles = ["YU2<br>(Clade B)", "TRO.11<br>(Clade B)", "ZM135<br>(Clade C)"]

panels = [
    (p1_t, p1_black, p1_ft, p1_fit, [], 1.3),
    (p2_t, p2_black, p2_ft, p2_fit, p2_events, 1.3),
    (p3_t, p3_black, p3_ft, p3_fit, p3_events, 2.0),
    (p4_t, p4_black, p4_ft, p4_fit, p4_events, 1.3),
    (p5_t, p5_black, p5_ft, p5_fit, p5_events, 1.3),
    (p6_t, p6_black, p6_ft, p6_fit, p6_events, 1.3),
]
zero_line = [False, True, False, True, True, True]

fig = go.Figure()
layout = dict(width=W, height=H, autosize=False, paper_bgcolor="white", plot_bgcolor="white",
              margin=dict(l=0, r=0, t=0, b=0), showlegend=False, font=dict(family=FONT, color="#111"))

for i, (t, blacks, ft, fits, events, bw) in enumerate(panels):
    n = i + 1
    xa = "x" if n == 1 else f"x{n}"
    ya = "y" if n == 1 else f"y{n}"
    for (et, lo, hi, c) in events:
        fig.add_trace(go.Scatter(x=[et, et], y=[lo, hi], mode="lines", line=dict(color=c, width=1),
                                 xaxis=xa, yaxis=ya, hoverinfo="skip"))
    for yv in blacks:
        fig.add_trace(go.Scatter(x=t, y=yv, mode="lines", line=dict(color=BLACK, width=bw),
                                 xaxis=xa, yaxis=ya))
    for yv in fits:
        fig.add_trace(go.Scatter(x=ft, y=yv, mode="lines", line=dict(color=ORANGE, width=1.7),
                                 xaxis=xa, yaxis=ya))
    l, r, tp, bt = boxes[i]
    axis_common = dict(showline=True, mirror=True, linecolor="#8a8a8a", linewidth=1, showgrid=False,
                       ticks="outside", ticklen=3, tickcolor="#8a8a8a",
                       tickfont=dict(size=18, family=FONT, color="#111"))
    layout["xaxis" if n == 1 else f"xaxis{n}"] = dict(
        domain=[l / W, r / W], anchor=ya, range=x_ranges[i], tickvals=x_ticks, zeroline=False, **axis_common)
    layout["yaxis" if n == 1 else f"yaxis{n}"] = dict(
        domain=[1 - bt / H, 1 - tp / H], anchor=xa, range=y_ranges[i], tickvals=y_ticks[i],
        zeroline=zero_line[i], zerolinecolor="#333333", zerolinewidth=1,
        minor=dict(dtick=y_minor[i], ticks="outside", ticklen=2, tickcolor="#8a8a8a"), **axis_common)

ann = []


def px(x, y):
    return x / W, 1 - y / H


def add_text(xc, yc, text, size, xanchor="center", angle=0, family=None):
    x, y = px(xc, yc)
    f = dict(size=size)
    if family:
        f["family"] = family
    ann.append(dict(x=x, y=y, xref="paper", yref="paper", text=text, font=f, showarrow=False,
                    xanchor=xanchor, yanchor="middle", textangle=angle))


for txt, xc in zip(col_titles, [350, 823]):
    add_text(xc, 22, f"<b>{txt}</b>", 22, family="Liberation Sans Narrow, Liberation Sans, Arial")

kd_pos = [(350, 106), (823, 106), (332, 522), (815, 522), (332, 937), (795, 937)]
ka_pos = [(177, 145), (638, 143), (180, 566), (647, 565), (180, 977), (642, 977)]
kdr_pos = [(544, 145), (1007, 143), (547, 566), (1007, 565), (545, 977), (1005, 977)]
for i in range(6):
    add_text(*kd_pos[i], f"K<sub>D</sub>={kd_text[i]} nM", 25)
    add_text(*ka_pos[i], f"k<sub>a</sub>={ka_text[i][0]}×10<sup>{ka_text[i][1]}</sup> M<sup>-1</sup>s<sup>-1</sup>",
             19.5, xanchor="left")
    add_text(*kdr_pos[i], f"k<sub>d</sub>={kd_rate[i][0]}×10<sup>{kd_rate[i][1]}</sup> s<sup>-1</sup>",
             19.5, xanchor="right")

for txt, yc in zip(row_titles, [280, 694, 1112]):
    add_text(52, yc, txt, 19)

for yc in [277, 692, 1117]:
    add_text(148, yc, "Response", 20, angle=-90)

for xc in [362, 830]:
    add_text(xc, 1254, "Time (s)", 19)

layout["annotations"] = ann
fig.update_layout(**layout)
fig.write_html("out.html", config={"displayModeBar": False},
               post_script="document.body.style.margin='0';document.body.style.padding='0';")
